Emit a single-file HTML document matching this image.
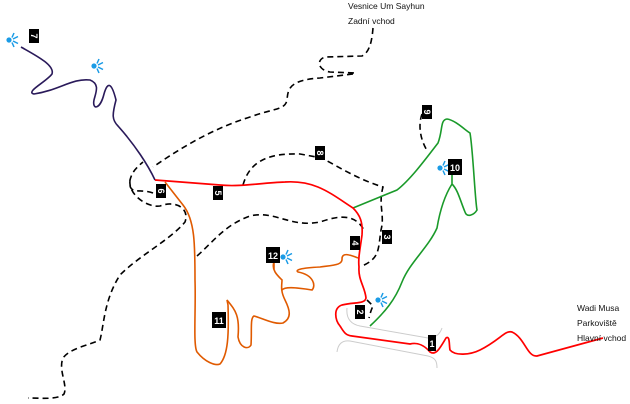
<!DOCTYPE html>
<html><head><meta charset="utf-8"><style>
html,body{margin:0;padding:0;background:#fff;}
svg{display:block}
text{font-family:"Liberation Sans",sans-serif;}
.lbl rect{fill:#000}
.lbl text{fill:#fff;font-size:9px;font-weight:bold;text-anchor:middle}
.d{fill:none;stroke:#000;stroke-width:1.6;stroke-dasharray:6,4}
.ic circle{fill:#1a9be6}
.ic path{stroke:#1a9be6;stroke-width:1.5;fill:none}
</style></head><body>
<svg width="630" height="404" viewBox="0 0 630 404" xmlns="http://www.w3.org/2000/svg">
<defs>
<g id="fan" class="ic"><circle cx="0" cy="0" r="2.6"/>
<path d="M3,-2.5 L5,-7 M4,-1 L9,-3.5 M4,1 L9,3.5 M3,2.5 L5,7"/></g>
</defs>
<!-- gray roads -->
<path d="M347,308 C346,318 350,324 360,326 L428,338 C436,338 440,334 442,328" fill="none" stroke="#ccc" stroke-width="1"/>
<path d="M337,352 C338,344 342,340 350,341 L428,356 C436,358 437,362 437,368" fill="none" stroke="#ccc" stroke-width="1"/>
<!-- dashed -->
<path class="d" d="M373,28 C372,40 370,52 362,56 L325,57 C316,60 318,70 330,72 L355,73 M353,74 L320,78 C288,80 288,90 287,100 C285,110 275,108 250,117 C215,128 185,145 153,167"/>
<path class="d" d="M153,193 C140,188 128,196 130,180 C132,172 136,168 143,162 M130,180 C128,195 148,208 160,206 C175,200 190,208 185,222 C170,240 140,255 120,275 C104,300 104,325 100,340 C90,345 70,348 63,358 C58,370 68,385 64,394 C58,400 40,398 28,398"/>
<path class="d" d="M243,185 C250,160 270,153 300,154 L322,158 C340,168 360,180 383,187 C378,205 385,215 381,230 C378,250 380,258 362,266"/>
<path class="d" d="M197,256 C215,240 225,225 250,216 C275,210 290,228 320,222 C340,215 355,214 364,230"/>
<path class="d" d="M422,114 C418,125 420,140 428,152"/>
<path class="d" d="M367,300 L373,306 C371,310 370,314 369,318"/>
<!-- purple -->
<path d="M21,47 C35,55 55,65 52,74 C46,82 25,92 34,94 C60,90 72,78 90,80 C100,84 96,92 94,100 C92,110 100,110 104,94 C108,80 112,84 116,100 C112,115 112,120 118,126 C135,145 148,165 155,180" fill="none" stroke="#2a1a5a" stroke-width="1.6"/>
<!-- orange -->
<path d="M165,182 L183,205 C195,220 195,245 195,280 C196,310 193,345 197,352 C205,362 215,366 220,364 C228,355 229,335 228,305 L227,300 C235,310 240,315 238,337 C240,348 248,350 251,345 C252,330 250,318 254,316 C262,318 275,325 283,323 C292,318 290,310 285,300 C280,290 282,285 282,280 C278,276 271,270 274,262 L274,269 M282,290 C285,286 300,288 312,290 C316,286 314,275 298,272 C295,270 300,268 320,267 C335,265 343,265 342,258 C343,253 348,254 358,258" fill="none" stroke="#e05a00" stroke-width="1.6"/>
<!-- green -->
<path d="M353,208 L397,190 C410,180 425,160 438,143 C443,130 440,120 447,119 C455,120 465,130 470,133 C473,150 475,200 477,210 C474,215 467,218 465,212 C460,200 458,190 452,184 C445,195 440,210 437,228 C428,248 410,262 402,282 C395,300 385,312 370,326 M452,184 L452,170" fill="none" stroke="#1a9a2a" stroke-width="1.6"/>
<!-- red -->
<path d="M155,180 L220,185 C240,187 260,183 285,182 C315,180 330,193 353,208 C360,215 363,222 362,235 C360,250 358,258 359,267 C358,280 365,287 366,298 C365,304 355,302 342,305 C333,308 335,320 340,326 C344,332 345,335 352,336 L410,344 C418,342 425,346 430,352 C436,356 440,348 446,338 C450,335 449,345 450,350 C455,356 470,355 480,350 C500,340 505,330 512,332 C525,338 527,357 537,356 L603,338" fill="none" stroke="#f00" stroke-width="1.7"/>
<!-- icons -->
<use href="#fan" x="9" y="40"/>
<use href="#fan" x="94" y="66"/>
<use href="#fan" x="283" y="257"/>
<use href="#fan" x="378" y="300"/>
<use href="#fan" x="440" y="168"/>
<!-- labels -->
<g class="lbl">
<g transform="translate(34,36) rotate(90)"><rect x="-7" y="-5" width="14" height="10"/><text y="3.2">7</text></g>
<g transform="translate(161,191) rotate(90)"><rect x="-7" y="-5" width="14" height="10"/><text y="3.2">6</text></g>
<g transform="translate(218,193) rotate(90)"><rect x="-7" y="-5" width="14" height="10"/><text y="3.2">5</text></g>
<g transform="translate(320,153) rotate(90)"><rect x="-7" y="-5" width="14" height="10"/><text y="3.2">8</text></g>
<g transform="translate(427,112) rotate(90)"><rect x="-7" y="-5" width="14" height="10"/><text y="3.2">9</text></g>
<g transform="translate(355,243) rotate(90)"><rect x="-7" y="-5" width="14" height="10"/><text y="3.2">4</text></g>
<g transform="translate(387,237) rotate(90)"><rect x="-7" y="-5" width="14" height="10"/><text y="3.2">3</text></g>
<g transform="translate(360,312) rotate(90)"><rect x="-7" y="-5" width="14" height="10"/><text y="3.2">2</text></g>
<g transform="translate(432,343)"><rect x="-4" y="-8" width="8" height="16"/><text y="4">1</text></g>
<g transform="translate(455,167)"><rect x="-7" y="-8" width="14" height="16"/><text y="4">10</text></g>
<g transform="translate(273,255)"><rect x="-7" y="-8" width="14" height="16"/><text y="4">12</text></g>
<g transform="translate(219,320)"><rect x="-7" y="-8" width="14" height="16"/><text y="4">11</text></g>
</g>
<g font-size="8.5" fill="#111">
<text x="348" y="9">Vesnice Um Sayhun</text>
<text x="348" y="24">Zadní vchod</text>
<text x="577" y="311">Wadi Musa</text>
<text x="577" y="326">Parkoviště</text>
<text x="577" y="341">Hlavní vchod</text>
</g>
</svg>
</body></html>
